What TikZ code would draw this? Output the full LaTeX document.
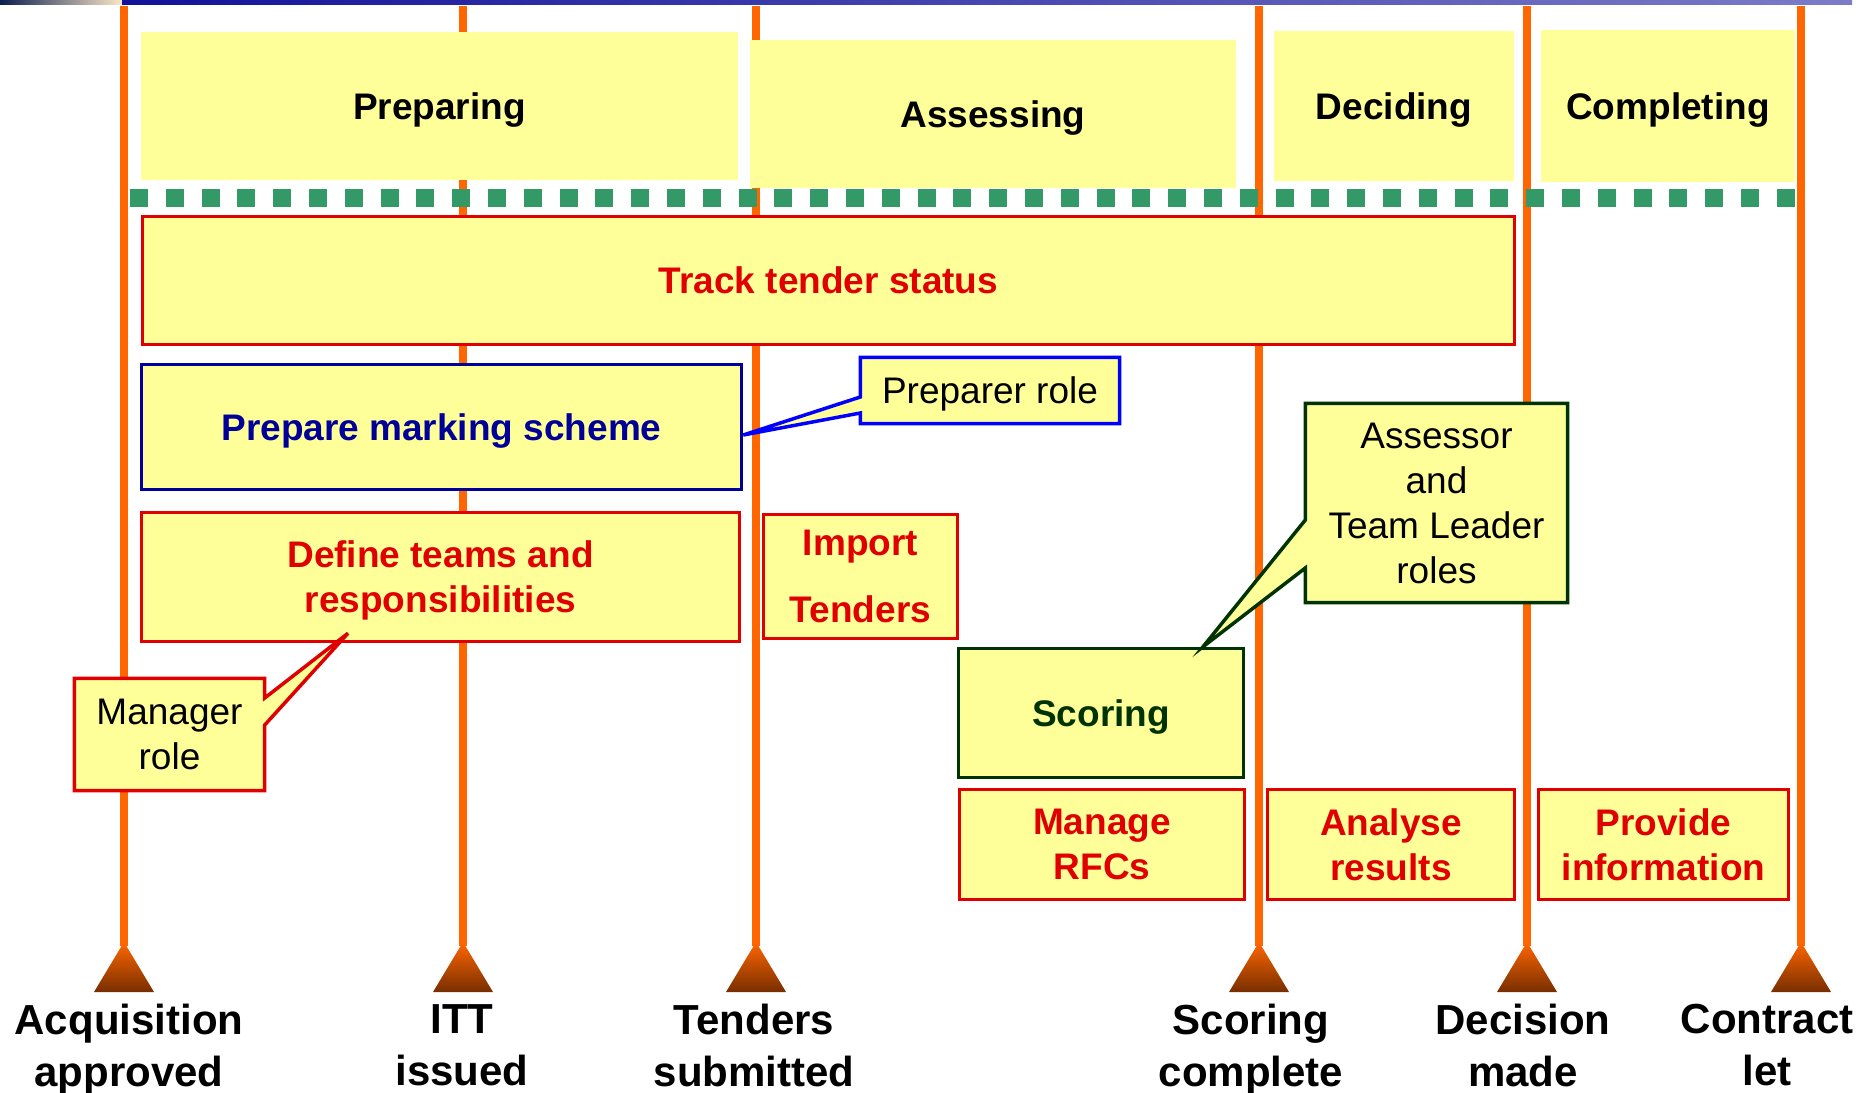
\documentclass[tikz,border=0pt]{standalone}
\usepackage{fontspec}
\setmainfont{Liberation Sans}
\usepackage{tikz}
\pgfdeclarelayer{front}
\pgfsetlayers{main,front}
\definecolor{boxyellow}{HTML}{FFFF99}
\definecolor{linorange}{HTML}{FF6600}
\definecolor{tribrown}{HTML}{772E00}
\definecolor{dotgreen}{HTML}{339966}
\definecolor{taskred}{HTML}{E00000}
\definecolor{navyblue}{HTML}{000099}
\definecolor{roleblue}{HTML}{0000FF}
\definecolor{darkgreen}{HTML}{003300}
\definecolor{barnavy}{HTML}{12129A}
\definecolor{barlilac}{HTML}{7C7CC8}
\definecolor{bardark}{HTML}{0B1E4E}
\definecolor{barbeige}{HTML}{FCE8C8}
\newcommand{\taskfont}{\fontsize{37}{45}\selectfont}
\newcommand{\milefont}{\fontsize{42}{52}\selectfont}

\begin{document}
\begin{tikzpicture}[x=1pt, y=-1pt,
  phase/.style={fill=boxyellow, inner sep=0pt, text depth=0pt, font=\taskfont\bfseries},
  task/.style={draw=taskred, line width=3.5pt, fill=boxyellow, inner sep=0pt, text depth=0pt, align=center, text=taskred, font=\taskfont\bfseries},
  role/.style={inner sep=0pt, text depth=0pt, align=center, font=\taskfont},
  callout/.style={line width=3.5pt, fill=boxyellow, line join=miter},
  mline/.style={draw=linorange, line width=8pt},
  milestone/.style={anchor=north, align=center, font=\milefont\bfseries}]
\useasboundingbox (0,0) rectangle (1859,1092);
%%%%% Top bar %%%%%
\shade[left color=bardark, right color=barbeige] (0,0) rectangle (122,4);
\shade[left color=barnavy, right color=barlilac] (122,0) rectangle (1852,4);
%%%%% Milestones %%%%%
\foreach \x/\lx/\n/\txt in {124/129/acq/{Acquisition\\approved}, 463/462/itt/{ITT\\issued}, 756/754/tsub/{Tenders\\submitted}, 1259/1251/scomp/{Scoring\\complete}, 1527/1523/decm/{Decision\\made}, 1801/1767/clet/{Contract\\let}}{
\draw[mline] (\x,6) -- (\x,946);
\shade[top color=linorange, bottom color=tribrown] (\x,942) -- (\x+30,992) -- (\x-30,992) -- cycle;
\node[milestone] (\n) at (\lx,1001) {\txt};
}
%%%%% Phases %%%%%
\node[phase, minimum width=597pt, minimum height=148pt] (prep) at (439.5,106) {Preparing};
\node[phase, minimum width=486pt, minimum height=148pt] (assess) at (993,114) {Assessing};
\node[phase, minimum width=240pt, minimum height=150pt] (decide) at (1394,106) {Deciding};
\node[phase, minimum width=254pt, minimum height=152pt] (complete) at (1668,106) {Completing};
\draw[dotgreen, line width=18pt, dash pattern=on 18pt off 17.8pt] (130,198) -- (1795,198);
%%%%% Tasks %%%%%
\node[task, minimum width=1372pt, minimum height=128pt] (track) at (828.5,280.5) {Track tender status};
\node[task, draw=navyblue, text=navyblue, minimum width=600pt, minimum height=125pt] (marking) at (441.5,427) {Prepare marking scheme};
\node[task, minimum width=598pt, minimum height=129pt] (define) at (440.5,577) {Define teams and\\responsibilities};
\node[task, minimum width=194pt, minimum height=124pt] (import) at (860.5,576.5) {Import\\[22pt]Tenders};
\node[task, draw=darkgreen, text=darkgreen, minimum width=285pt, minimum height=129pt] (scoring) at (1101,713) {Scoring};
\node[task, minimum width=285pt, minimum height=110pt] (rfcs) at (1102,844.5) {Manage\\RFCs};
\node[task, minimum width=247pt, minimum height=110pt] (analyse) at (1391,844.5) {Analyse\\results};
\node[task, minimum width=250pt, minimum height=110pt] (provide) at (1663.5,844.5) {Provide\\information};
%%%%% Roles %%%%%
\begin{pgfonlayer}{front}
\node[role, minimum width=259pt, minimum height=66pt] (preprole) at (990,390.5) {Preparer role};
\node[role, minimum width=190pt, minimum height=112pt] (mgrrole) at (169.5,734.5) {Manager\\role};
\node[role, minimum width=262pt, minimum height=199pt] (assessrole) at (1436.5,503) {Assessor\\and\\Team Leader\\roles};
\end{pgfonlayer}
\draw[callout, draw=roleblue] (preprole.north west) -- (preprole.north east) -- (preprole.south east) -- (preprole.south west) -- ([yshift=-22.5pt]preprole.west) -- ([yshift=-8pt]marking.east) -- ([yshift=-6.5pt]preprole.west) -- cycle;
\draw[callout, draw=taskred] (mgrrole.north west) -- (mgrrole.north east) -- ([yshift=36.5pt]mgrrole.east) -- ([xshift=-92.5pt,yshift=10pt]define.south) -- ([yshift=9.5pt]mgrrole.east) -- (mgrrole.south east) -- (mgrrole.south west) -- cycle;
\draw[callout, draw=darkgreen] (assessrole.north west) -- (assessrole.north east) -- (assessrole.south east) -- (assessrole.south west) -- ([yshift=-65pt]assessrole.west) -- ([xshift=102pt]scoring.north) -- ([yshift=-17pt]assessrole.west) -- cycle;
\end{tikzpicture}
\end{document}
